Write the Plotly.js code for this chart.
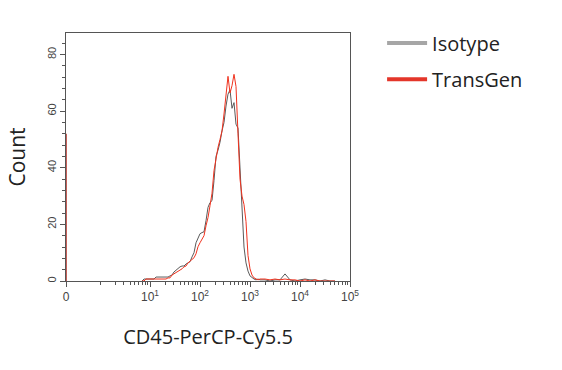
<!DOCTYPE html>
<html>
<head>
<meta charset="utf-8">
<script src="https://cdn.plot.ly/plotly-3.0.1.min.js"></script>
<style>html,body{margin:0;padding:0;background:#fff;}#chart{width:562px;height:370px;}</style>
</head>
<body>
<div id="chart"></div>
<script>
// x positions in display decades (log10 of intensity; zero channel drawn at ZERO_POS)
var ZERO_POS = -0.68;
var binPos = [0.84,0.88,0.92,0.96,1.00,1.04,1.08,1.12,1.16,1.20,1.24,1.28,1.32,1.36,1.40,1.44,1.48,1.52,1.56,1.60,
  1.64,1.68,1.72,1.76,1.80,1.84,1.88,1.92,1.96,2.00,2.04,2.08,2.12,2.16,2.20,2.24,2.28,2.32,2.36,2.40,
  2.44,2.48,2.52,2.56,2.60,2.64,2.68,2.72,2.76,2.80,2.84,2.88,2.92,2.96,3.00,3.04,3.08,3.12,3.16,3.20,
  3.3,3.4,3.5,3.6,3.7,3.8,3.9,4.0,4.1,4.2,4.3,4.4,4.5,4.6,4.7];
var isotypeCounts = [0,0.7,0.7,0.7,0.7,0.7,0.7,1.4,1.4,1.4,1.4,1.4,1.4,1.4,1.8,2.1,3.2,3.9,4.6,5.0,
  5.3,5.3,6.0,6.4,6.8,8.5,10.0,13.5,15.3,16.7,17.1,17.4,21.3,26.0,27.7,28.4,35.5,44.0,46.2,49.0,
  53.0,56.0,61.8,66.0,67.5,61.0,63.0,55.4,54.0,38.0,24.0,12.0,6.4,3.5,1.8,1.1,0.7,0.4,0.7,0.4,
  0.4,0,0.4,0.4,2.5,0.4,0,0.4,0.7,0.4,0.4,0,0.4,0,0];
var transgenCounts = [0,0,0.7,0.7,0.7,0.7,0.7,0.7,0.7,0.7,0.7,0.7,0.7,1.1,1.1,2.1,2.5,2.8,3.2,3.6,
  4.3,5.0,5.3,6.4,7.1,7.5,8.2,9.6,12.1,13.5,14.6,16.0,19.5,22.4,26.6,31.0,39.0,44.0,47.2,50.0,
  53.0,59.0,67.0,72.3,66.4,69.0,73.0,68.7,52.0,36.0,30.0,27.0,21.0,9.0,4.3,2.1,1.1,0.7,0.4,0.7,
  0.7,0.4,0.7,0.4,0.7,0.4,0.4,0,0.4,0,0.4,0,0,0,0];
var transgenZeroCount = 52;
var seriesNames = ['Isotype','TransGen'];
var xTickVals = [ZERO_POS,1,2,3,4,5];
var xTickText = ['0','10<sup>1</sup>','10<sup>2</sup>','10<sup>3</sup>','10<sup>4</sup>','10<sup>5</sup>'];
var yTickVals = [0,20,40,60,80];

var minorVals = [];
for (var dec = 0; dec < 5; dec++) for (var k = 1; k < 10; k++) minorVals.push(dec + Math.log10(k));

var titleFont = '"Open Sans", Lato, sans-serif';
var traces = [
  {x: binPos, y: isotypeCounts, type: 'scatter', mode: 'lines', line: {color: '#5a5a5a', width: 1}, showlegend: false, hoverinfo: 'skip'},
  {x: binPos, y: transgenCounts, type: 'scatter', mode: 'lines', line: {color: '#f0321e', width: 1}, showlegend: false, hoverinfo: 'skip'},
  {x: [ZERO_POS, ZERO_POS], y: [0, transgenZeroCount], type: 'scatter', mode: 'lines', line: {color: '#b02a20', width: 1.5}, showlegend: false, hoverinfo: 'skip'},
  {x: [null], y: [null], type: 'scatter', mode: 'lines', name: seriesNames[0], line: {color: '#a6a6a6', width: 4}, legend: 'legend'},
  {x: [null], y: [null], type: 'scatter', mode: 'lines', name: seriesNames[1], line: {color: '#e4362a', width: 4}, legend: 'legend2'}
];
var legendFont = {family: titleFont, size: 20, color: '#222'};
var layout = {
  width: 562, height: 370,
  margin: {l: 66, r: 212, t: 33, b: 89, autoexpand: false},
  paper_bgcolor: '#fff', plot_bgcolor: '#fff',
  font: {family: '"Liberation Sans", Arial, sans-serif', color: '#444', size: 11},
  xaxis: {
    range: [ZERO_POS, 5], showgrid: false, zeroline: false,
    showline: true, mirror: true, linecolor: '#555', linewidth: 1,
    tickmode: 'array', tickvals: xTickVals, ticktext: xTickText,
    ticks: 'outside', ticklen: 5, tickcolor: '#555',
    tickfont: {size: 12, color: '#444'},
    minor: {tickmode: 'array', tickvals: minorVals, ticks: 'outside', ticklen: 3, tickcolor: '#555', showgrid: false},
    title: {text: 'CD45-PerCP-Cy5.5', font: {family: titleFont, size: 20, color: '#222'}, standoff: 26}
  },
  yaxis: {
    range: [0, 87.6], showgrid: false, zeroline: false,
    showline: true, mirror: true, linecolor: '#555', linewidth: 1,
    tickmode: 'array', tickvals: yTickVals, tickangle: -90,
    ticks: 'outside', ticklen: 5, tickcolor: '#555',
    tickfont: {size: 11, color: '#444'},
    minor: {dtick: 4, ticks: 'outside', ticklen: 3, tickcolor: '#555', showgrid: false},
    title: {text: 'Count', font: {family: titleFont, size: 21, color: '#222'}, standoff: 14}
  },
  legend: {x: 1.113, y: 0.884, xref: 'paper', yref: 'container', xanchor: 'left', yanchor: 'middle', itemwidth: 40, font: legendFont, bgcolor: 'rgba(0,0,0,0)'},
  legend2: {x: 1.113, y: 0.786, xref: 'paper', yref: 'container', xanchor: 'left', yanchor: 'middle', itemwidth: 40, font: legendFont, bgcolor: 'rgba(0,0,0,0)'}
};
Plotly.newPlot('chart', traces, layout, {displayModeBar: false, staticPlot: true});
</script>
</body>
</html>
